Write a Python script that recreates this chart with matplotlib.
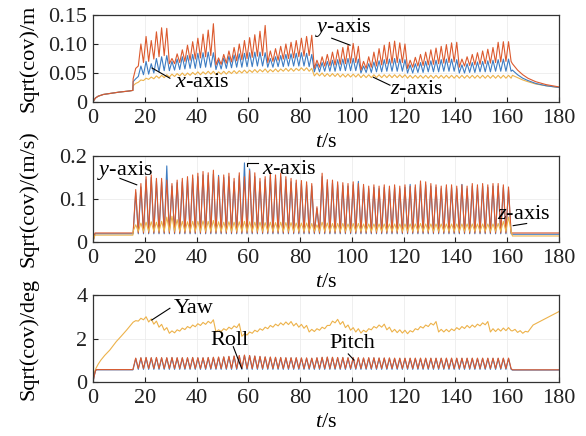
import matplotlib
matplotlib.use("Agg")
import matplotlib.pyplot as plt

plt.rcParams['font.family'] = ['Liberation Serif', 'DejaVu Serif']
plt.rcParams['mathtext.fontset'] = 'custom'
plt.rcParams['mathtext.rm'] = 'Liberation Serif'
plt.rcParams['mathtext.it'] = 'Liberation Serif:italic'

# ---------------- data ----------------
cycle_start = 15.5      # s, first measurement cycle
cycle_period = 2.0      # s

# --- panel 1: position std (m) ---
pos_lead_t = [0, 0.5, 1, 2, 4, 7, 10, 14, 15.4]
pos_lead_v = [0, 0.004, 0.007, 0.010, 0.013, 0.015, 0.017, 0.019, 0.020]

pos_y_peak = [0.058, 0.100, 0.113, 0.106, 0.121, 0.128, 0.127,
              0.075, 0.083, 0.090, 0.098, 0.104, 0.110, 0.117, 0.124, 0.135,
              0.076, 0.082, 0.088, 0.094, 0.100, 0.106, 0.111, 0.116, 0.122, 0.132,
              0.088, 0.092, 0.096, 0.100, 0.103, 0.106, 0.110, 0.113, 0.115,
              0.072, 0.078, 0.082, 0.086, 0.090, 0.094, 0.098, 0.101, 0.096,
              0.070, 0.078, 0.086, 0.092, 0.098, 0.103, 0.105, 0.102, 0.100,
              0.072, 0.077, 0.082, 0.086, 0.090, 0.093, 0.096, 0.099, 0.102, 0.103,
              0.074, 0.078, 0.082, 0.085, 0.088, 0.091, 0.094, 0.103, 0.104, 0.104]
pos_y_base = [0.040, 0.062, 0.068, 0.070, 0.074, 0.078, 0.080,
              0.066, 0.066, 0.068, 0.070, 0.072, 0.074, 0.076, 0.078, 0.080,
              0.064, 0.065, 0.067, 0.069, 0.071, 0.073, 0.075, 0.077, 0.079, 0.080,
              0.068, 0.070, 0.072, 0.074, 0.075, 0.076, 0.078, 0.079, 0.080,
              0.058, 0.060, 0.062, 0.063, 0.064, 0.065, 0.066, 0.067, 0.068,
              0.055, 0.058, 0.060, 0.062, 0.064, 0.066, 0.067, 0.068, 0.068,
              0.058, 0.060, 0.062, 0.063, 0.064, 0.065, 0.066, 0.067, 0.068, 0.069,
              0.060, 0.062, 0.063, 0.064, 0.065, 0.066, 0.067, 0.068, 0.069, 0.070]
pos_x_peak = [0.040, 0.062, 0.070, 0.066, 0.075, 0.078, 0.080,
              0.070, 0.074, 0.078, 0.080, 0.082, 0.084, 0.085, 0.086, 0.085,
              0.072, 0.076, 0.079, 0.081, 0.083, 0.084, 0.085, 0.086, 0.086, 0.085,
              0.075, 0.078, 0.080, 0.082, 0.083, 0.084, 0.085, 0.084, 0.082,
              0.066, 0.068, 0.070, 0.072, 0.073, 0.074, 0.075, 0.075, 0.074,
              0.062, 0.066, 0.069, 0.071, 0.073, 0.074, 0.075, 0.074, 0.073,
              0.064, 0.066, 0.068, 0.070, 0.071, 0.072, 0.073, 0.074, 0.074, 0.073,
              0.064, 0.066, 0.068, 0.069, 0.070, 0.071, 0.072, 0.073, 0.074, 0.074]
pos_x_base = [0.035, 0.044, 0.047, 0.048, 0.050, 0.052, 0.054,
              0.054, 0.055, 0.056, 0.057, 0.058, 0.058, 0.059, 0.060, 0.060,
              0.056, 0.057, 0.058, 0.059, 0.060, 0.060, 0.061, 0.061, 0.062, 0.062,
              0.060, 0.060, 0.061, 0.061, 0.062, 0.062, 0.062, 0.062, 0.061,
              0.052, 0.052, 0.053, 0.053, 0.053, 0.054, 0.054, 0.054, 0.054,
              0.050, 0.051, 0.051, 0.052, 0.052, 0.053, 0.053, 0.053, 0.053,
              0.050, 0.050, 0.051, 0.051, 0.052, 0.052, 0.052, 0.053, 0.053, 0.053,
              0.050, 0.050, 0.051, 0.051, 0.052, 0.052, 0.052, 0.053, 0.053, 0.053]
pos_z_peak = [0.032, 0.038, 0.041, 0.043, 0.045, 0.046, 0.047,
              0.048, 0.049, 0.050, 0.050, 0.051, 0.052, 0.052, 0.053, 0.053,
              0.052, 0.053, 0.053, 0.054, 0.054, 0.055, 0.055, 0.056, 0.056, 0.057,
              0.056, 0.057, 0.057, 0.058, 0.058, 0.058, 0.059, 0.059, 0.058,
              0.050, 0.050, 0.049, 0.049, 0.049, 0.048, 0.048, 0.048, 0.048,
              0.047, 0.047, 0.047, 0.047, 0.047, 0.047, 0.047, 0.047, 0.047,
              0.046, 0.046, 0.046, 0.046, 0.046, 0.046, 0.046, 0.046, 0.046, 0.046,
              0.046, 0.046, 0.046, 0.046, 0.046, 0.046, 0.046, 0.046, 0.046, 0.046]
pos_z_base = [0.028, 0.034, 0.037, 0.039, 0.040, 0.041, 0.042,
              0.043, 0.044, 0.045, 0.045, 0.046, 0.047, 0.047, 0.048, 0.048,
              0.047, 0.048, 0.048, 0.049, 0.049, 0.050, 0.050, 0.051, 0.051, 0.052,
              0.051, 0.052, 0.052, 0.053, 0.053, 0.053, 0.054, 0.054, 0.053,
              0.045, 0.045, 0.044, 0.044, 0.044, 0.043, 0.043, 0.043, 0.043,
              0.042, 0.042, 0.042, 0.042, 0.042, 0.042, 0.042, 0.042, 0.042,
              0.041, 0.041, 0.041, 0.041, 0.041, 0.041, 0.041, 0.041, 0.041, 0.041,
              0.041, 0.041, 0.041, 0.041, 0.041, 0.041, 0.041, 0.041, 0.041, 0.041]
pos_tail_t = [162, 164, 166, 168, 171, 175, 180]
pos_y_tail = [0.066, 0.055, 0.047, 0.041, 0.035, 0.030, 0.026]
pos_x_tail = [0.055, 0.047, 0.041, 0.037, 0.032, 0.028, 0.025]
pos_z_tail = [0.046, 0.042, 0.038, 0.035, 0.031, 0.028, 0.025]

# --- panel 2: velocity std (m/s) ---
vel_lead_t = [0, 0.4, 0.8, 15.4]
vel_y_lead = [0, 0.013, 0.021, 0.021]
vel_x_lead = [0, 0.012, 0.019, 0.019]
vel_z_lead = [0, 0.010, 0.016, 0.016]
vel_y_peak = [0.122, 0.136, 0.152, 0.156, 0.148, 0.148, 0.144, 0.136, 0.144, 0.148,
              0.152, 0.156, 0.160, 0.164, 0.161, 0.167, 0.152, 0.156, 0.160, 0.148,
              0.161, 0.152, 0.166, 0.161, 0.148, 0.152, 0.160, 0.156, 0.160, 0.152,
              0.148, 0.144, 0.143, 0.140, 0.136, 0.082, 0.160, 0.145, 0.144, 0.140,
              0.138, 0.136, 0.140, 0.136, 0.134, 0.130, 0.133, 0.130, 0.133, 0.130,
              0.133, 0.130, 0.133, 0.130, 0.133, 0.142, 0.140, 0.136, 0.133, 0.130,
              0.133, 0.133, 0.130, 0.133, 0.130, 0.136, 0.133, 0.136, 0.133, 0.136,
              0.136, 0.133, 0.128]
vel_x_peak = [0.115, 0.128, 0.145, 0.150, 0.142, 0.140, 0.177, 0.130, 0.138, 0.140,
              0.145, 0.148, 0.152, 0.156, 0.155, 0.158, 0.155, 0.150, 0.152, 0.140,
              0.154, 0.184, 0.170, 0.152, 0.140, 0.145, 0.152, 0.148, 0.152, 0.145,
              0.140, 0.137, 0.136, 0.133, 0.130, 0.078, 0.152, 0.138, 0.137, 0.133,
              0.131, 0.130, 0.133, 0.141, 0.128, 0.124, 0.127, 0.124, 0.127, 0.124,
              0.127, 0.124, 0.127, 0.134, 0.127, 0.135, 0.133, 0.130, 0.127, 0.124,
              0.127, 0.127, 0.124, 0.134, 0.124, 0.130, 0.127, 0.130, 0.127, 0.130,
              0.130, 0.127, 0.122]
vel_z_peak = [0.040, 0.044, 0.046, 0.047, 0.046, 0.048, 0.058, 0.060, 0.052, 0.048,
              0.047, 0.048, 0.048, 0.049, 0.048, 0.050, 0.047, 0.046, 0.047, 0.046,
              0.047, 0.048, 0.047, 0.046, 0.046, 0.045, 0.046, 0.045, 0.046, 0.045,
              0.045, 0.044, 0.044, 0.044, 0.043, 0.040, 0.046, 0.044, 0.043, 0.043,
              0.043, 0.042, 0.043, 0.043, 0.042, 0.042, 0.042, 0.042, 0.042, 0.042,
              0.042, 0.042, 0.042, 0.042, 0.042, 0.043, 0.042, 0.042, 0.042, 0.042,
              0.042, 0.042, 0.042, 0.042, 0.042, 0.042, 0.042, 0.042, 0.042, 0.042,
              0.043, 0.048, 0.058]
vel_y_base = 0.021
vel_x_base = 0.019
vel_z_base = 0.025
vel_tail_t = [162, 180]
vel_y_tail = [0.021, 0.021]
vel_x_tail = [0.018, 0.018]
vel_z_tail = [0.014, 0.014]

# --- panel 3: attitude std (deg) ---
att_lead_t = [0, 0.5, 1.0, 1.3, 15.4]
roll_lead = [0, 0.30, 0.52, 0.57, 0.57]
pitch_lead = [0, 0.30, 0.52, 0.56, 0.56]
roll_peak = [1.10, 1.12, 1.13, 1.12, 1.13, 1.12, 1.12, 1.13, 1.12, 1.12,
             1.12, 1.13, 1.12, 1.12, 1.13, 1.14, 1.15, 1.16, 1.18, 1.20,
             1.22, 1.24, 1.22, 1.20, 1.18, 1.16, 1.15, 1.14, 1.13, 1.12,
             1.12, 1.12, 1.11, 1.11, 1.10, 1.12, 1.14, 1.15, 1.14, 1.13,
             1.13, 1.12, 1.12, 1.12, 1.11, 1.12, 1.12, 1.11, 1.11, 1.11,
             1.10, 1.10, 1.10, 1.10, 1.10, 1.10, 1.10, 1.10, 1.10, 1.10,
             1.10, 1.10, 1.10, 1.10, 1.10, 1.10, 1.10, 1.10, 1.10, 1.10,
             1.10, 1.10, 1.10]
pitch_peak = [1.08, 1.10, 1.11, 1.10, 1.11, 1.10, 1.10, 1.11, 1.10, 1.10,
              1.10, 1.11, 1.10, 1.10, 1.11, 1.12, 1.13, 1.14, 1.16, 1.18,
              1.20, 1.22, 1.20, 1.18, 1.16, 1.14, 1.13, 1.12, 1.11, 1.10,
              1.10, 1.10, 1.09, 1.09, 1.08, 1.10, 1.12, 1.13, 1.12, 1.11,
              1.11, 1.10, 1.10, 1.10, 1.09, 1.10, 1.10, 1.09, 1.09, 1.09,
              1.08, 1.08, 1.08, 1.08, 1.08, 1.08, 1.08, 1.08, 1.08, 1.08,
              1.08, 1.08, 1.08, 1.08, 1.08, 1.08, 1.08, 1.08, 1.08, 1.08,
              1.08, 1.08, 1.08]
roll_base = 0.62
pitch_base = 0.58
att_tail_t = [162, 180]
roll_tail = [0.56, 0.56]
pitch_tail = [0.55, 0.55]

yaw_lead_t = [0, 0.3, 0.7, 1.2, 2, 3, 4.5, 6.5, 9, 11, 13, 15.4]
yaw_lead = [0, 0.32, 0.50, 0.64, 0.82, 1.00, 1.22, 1.47, 1.86, 2.12, 2.39, 2.74]
yaw_hi = [2.82, 2.93, 3.00, 2.90, 2.80, 2.65, 2.50, 2.35, 2.40, 2.48,
          2.55, 2.62, 2.68, 2.74, 2.79, 2.86, 2.40, 2.45, 2.52, 2.58,
          2.68, 2.22, 2.30, 2.38, 2.45, 2.52, 2.60, 2.66, 2.72, 2.76,
          2.78, 2.70, 2.65, 2.60, 2.42, 2.45, 2.52, 2.60, 2.80, 2.88,
          2.78, 2.62, 2.50, 2.45, 2.38, 2.45, 2.55, 2.62, 2.66, 2.52,
          2.42, 2.40, 2.38, 2.36, 2.45, 2.55, 2.62, 2.70, 2.78, 2.42,
          2.42, 2.44, 2.50, 2.55, 2.60, 2.62, 2.66, 2.72, 2.78, 2.45,
          2.45, 2.48, 2.50]
yaw_lo = [2.75, 2.80, 2.86, 2.76, 2.66, 2.52, 2.38, 2.24, 2.26, 2.34,
          2.41, 2.48, 2.54, 2.60, 2.65, 2.70, 2.30, 2.32, 2.38, 2.44,
          2.50, 2.10, 2.16, 2.24, 2.31, 2.38, 2.45, 2.52, 2.58, 2.62,
          2.64, 2.58, 2.52, 2.47, 2.30, 2.32, 2.38, 2.45, 2.60, 2.72,
          2.65, 2.50, 2.38, 2.30, 2.25, 2.30, 2.40, 2.48, 2.52, 2.40,
          2.30, 2.27, 2.25, 2.22, 2.30, 2.40, 2.48, 2.55, 2.62, 2.30,
          2.30, 2.31, 2.36, 2.41, 2.46, 2.49, 2.52, 2.58, 2.63, 2.30,
          2.32, 2.34, 2.36]
yaw_tail_t = [162, 163, 164, 165, 166, 167, 168, 170, 175, 180]
yaw_tail = [2.35, 2.42, 2.28, 2.36, 2.24, 2.33, 2.30, 2.62, 2.93, 3.24]

# ---------------- helpers ----------------
def build(lead_t, lead_v, bases, peaks, tail_t, tail_v):
    if not hasattr(bases, '__len__'):
        bases = [bases] * len(peaks)
    t = list(lead_t)
    v = list(lead_v)
    half = cycle_period / 2.0
    for i, (b, p) in enumerate(zip(bases, peaks)):
        ts = cycle_start + i * cycle_period
        t += [ts, ts + half]
        v += [b, p]
    t += [cycle_start + len(peaks) * cycle_period]
    v += [bases[-1]]
    t += list(tail_t)
    v += list(tail_v)
    return t, v

C_BLUE = '#3D7CC2'
C_RED = '#DC5A2E'
C_YEL = '#EDB24A'
LW = 0.8
FS = 16

fig = plt.figure(figsize=(5.86, 4.36), dpi=100)
W = 586.0
H = 436.0
ax_left, ax_right = 93, 559
panels_px = [(15, 102), (156, 242), (295, 382)]
axes = []
for top, bot in panels_px:
    ax = fig.add_axes([ax_left / W, 1 - bot / H, (ax_right - ax_left) / W, (bot - top) / H])
    axes.append(ax)

# panel 1
ax1 = axes[0]
t, v = build(pos_lead_t, pos_lead_v, pos_z_base, pos_z_peak, pos_tail_t, pos_z_tail)
ax1.plot(t, v, color=C_YEL, lw=LW)
t, v = build(pos_lead_t, pos_lead_v, pos_x_base, pos_x_peak, pos_tail_t, pos_x_tail)
ax1.plot(t, v, color=C_BLUE, lw=LW)
t, v = build(pos_lead_t, pos_lead_v, pos_y_base, pos_y_peak, pos_tail_t, pos_y_tail)
ax1.plot(t, v, color=C_RED, lw=LW)
ax1.set_ylim(0, 0.15)
ax1.set_yticks([0, 0.05, 0.10, 0.15])
ax1.set_yticklabels(['0', '0.05', '0.10', '0.15'])
ax1.set_ylabel('Sqrt(cov)/m', fontsize=FS)

# panel 2
ax2 = axes[1]
t, v = build(vel_lead_t, vel_x_lead, vel_x_base, vel_x_peak, vel_tail_t, vel_x_tail)
ax2.plot(t, v, color=C_BLUE, lw=LW)
t, v = build(vel_lead_t, vel_y_lead, vel_y_base, vel_y_peak, vel_tail_t, vel_y_tail)
ax2.plot(t, v, color=C_RED, lw=LW)
t, v = build(vel_lead_t, vel_z_lead, vel_z_base, vel_z_peak, vel_tail_t, vel_z_tail)
ax2.plot(t, v, color=C_YEL, lw=LW)
ax2.set_ylim(0, 0.2)
ax2.set_yticks([0, 0.1, 0.2])
ax2.set_yticklabels(['0', '0.1', '0.2'])
ax2.set_ylabel('Sqrt(cov)/(m/s)', fontsize=FS)

# panel 3
ax3 = axes[2]
t, v = build(yaw_lead_t, yaw_lead, yaw_lo, yaw_hi, yaw_tail_t, yaw_tail)
ax3.plot(t, v, color=C_YEL, lw=LW)
t, v = build(att_lead_t, pitch_lead, pitch_base, pitch_peak, att_tail_t, pitch_tail)
ax3.plot(t, v, color=C_BLUE, lw=LW)
t, v = build(att_lead_t, roll_lead, roll_base, roll_peak, att_tail_t, roll_tail)
ax3.plot(t, v, color=C_RED, lw=LW)
ax3.set_ylim(0, 4)
ax3.set_yticks([0, 2, 4])
ax3.set_ylabel('Sqrt(cov)/deg', fontsize=FS)

for ax, (top, bot) in zip(axes, panels_px):
    hpx = bot - top
    ax.set_xlim(0, 180)
    ax.set_xticks(range(0, 181, 20))
    ax.tick_params(direction='in', length=3.5, width=0.8, labelsize=FS, pad=4,
                   colors='#222222', top=False, right=False)
    ax.tick_params(axis='x', pad=5)
    ax.grid(True, color='#ececec', lw=0.6)
    ax.set_axisbelow(True)
    for s in ax.spines.values():
        s.set_color('#333333')
        s.set_linewidth(0.9)
    ax.set_xlabel(r'$t$/s', fontsize=FS)
    ax.xaxis.set_label_coords(0.5, -(31.0 / hpx))
    ax.yaxis.set_label_coords(-(ax_left - 38) / (ax_right - ax_left), 0.5)

# annotations panel 1
ax1.plot([22.8, 29.7], [0.0586, 0.041], color='black', lw=0.8)
ax1.text(31.7, 0.034, r'$x$-axis', fontsize=FS, va='center', ha='left')
ax1.plot([92.2, 99.3], [0.110, 0.098], color='black', lw=0.8)
ax1.text(85.7, 0.128, r'$y$-axis', fontsize=FS, va='center', ha='left')
ax1.plot([108.3, 114.7], [0.0426, 0.029], color='black', lw=0.8)
ax1.text(114.7, 0.022, r'$z$-axis', fontsize=FS, va='center', ha='left')

# annotations panel 2
ax2.plot([10.4, 16.9], [0.148, 0.133], color='black', lw=0.8)
ax2.text(1.4, 0.166, r'$y$-axis', fontsize=FS, va='center', ha='left')
ax2.plot([59.4, 59.4, 63.8], [0.176, 0.184, 0.184], color='black', lw=0.8)
ax2.text(65.3, 0.168, r'$x$-axis', fontsize=FS, va='center', ha='left')
ax2.plot([162.3, 167.5], [0.038, 0.043], color='black', lw=0.8)
ax2.text(155.9, 0.063, r'$z$-axis', fontsize=FS, va='center', ha='left')

# annotations panel 3
ax3.plot([22.7, 29.7], [2.85, 3.39], color='black', lw=0.8)
ax3.text(31.0, 3.36, 'Yaw', fontsize=FS, va='center', ha='left')
ax3.plot([54.2, 57.4], [1.62, 0.63], color='black', lw=0.8)
ax3.text(45.2, 1.89, 'Roll', fontsize=FS, va='center', ha='left')
ax3.plot([98.6, 100.8], [1.29, 1.01], color='black', lw=0.8)
ax3.text(91.3, 1.79, 'Pitch', fontsize=FS, va='center', ha='left')

fig.savefig('out.png', dpi=100)
